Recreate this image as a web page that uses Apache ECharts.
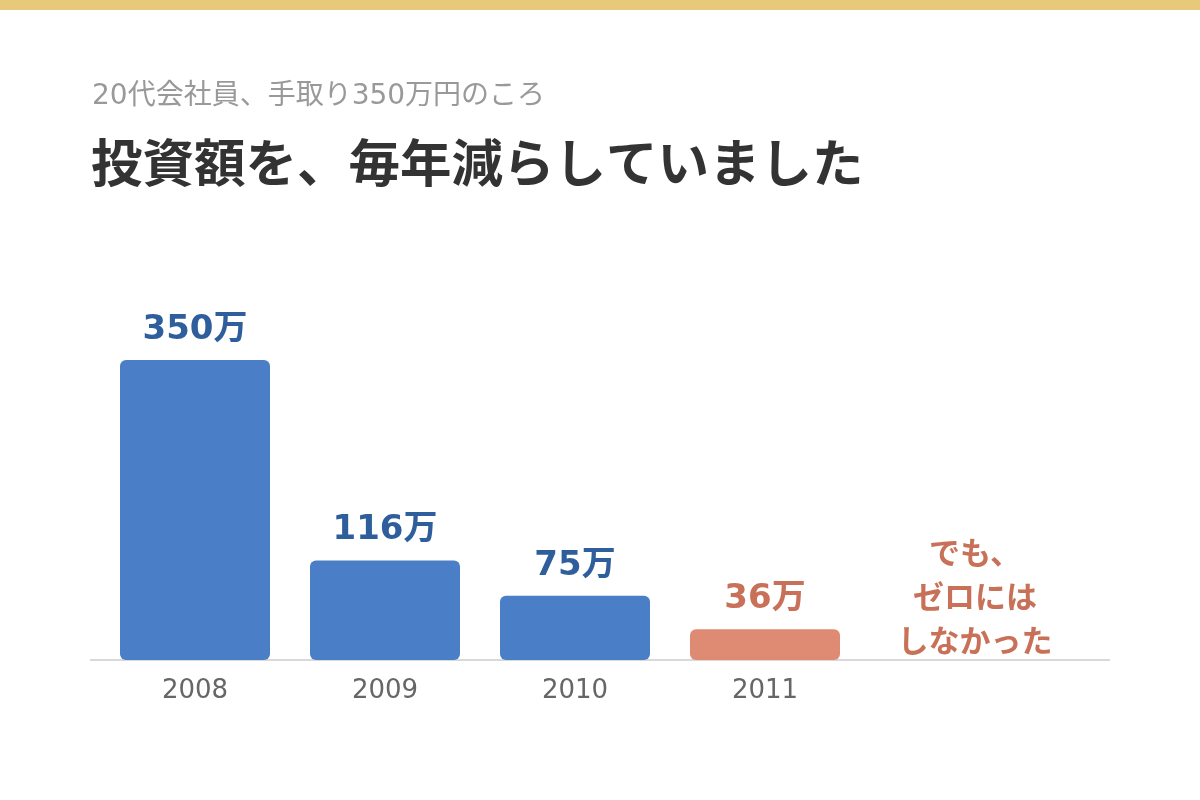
<!DOCTYPE html>
<html>
<head>
<meta charset="utf-8">
<script src="https://cdn.jsdelivr.net/npm/echarts@6/dist/echarts.min.js"></script>
<style>
html,body{margin:0;padding:0;background:#fff;}
#chart{width:1200px;height:800px;}
</style>
</head>
<body>
<div id="chart"></div>
<script>
const categories = ['2008', '2009', '2010', '2011', ''];
const values = [350, 116, 75, 36, 0];
const valueLabels = ['350万', '116万', '75万', '36万', 'でも、\nゼロには\nしなかった'];
const subtitleText = '20代会社員、手取り350万円のころ';
const titleText = '投資額を、毎年減らしていました';

const FONT = '"Noto Sans CJK JP", "Noto Sans", sans-serif';
const FONT_NUM = '"DejaVu Sans", "Noto Sans CJK JP", sans-serif';
const BLUE = '#4A7EC7', BLUE_TXT = '#2F5E9C';
const ORANGE = '#DF8B74', ORANGE_TXT = '#C87158';

const seriesData = values.map((v, i) => {
  const isLast = i === values.length - 1;
  const isOrange = i >= 3;
  const item = {
    value: v,
    itemStyle: { color: isOrange ? ORANGE : BLUE, borderRadius: 6 },
    label: {
      show: true,
      position: 'top',
      formatter: valueLabels[i],
      color: isOrange ? ORANGE_TXT : BLUE_TXT,
      fontSize: 34,
      fontWeight: 'bold',
      fontFamily: FONT_NUM,
      distance: 13
    }
  };
  if (isLast) {
    item.itemStyle = { color: 'rgba(0,0,0,0)' };
    item.label.fontSize = 31;
    item.label.fontFamily = FONT;
    item.label.lineHeight = 44;
    item.label.align = 'center';
    item.label.distance = 0;
    item.label.offset = [20, 2];
  }
  return item;
});

const chart = echarts.init(document.getElementById('chart'), null, { renderer: 'canvas' });
chart.setOption({
  backgroundColor: '#ffffff',
  animation: false,
  title: [
    { text: subtitleText, left: 87, top: 78,
      textStyle: { color: '#999999', fontSize: 28, fontWeight: 'normal', fontFamily: FONT_NUM } },
    { text: titleText, left: 86, top: 132,
      textStyle: { color: '#333333', fontSize: 51.5, fontWeight: 'bold', fontFamily: FONT } }
  ],
  graphic: [
    { type: 'rect', left: 0, top: 0, shape: { width: 1200, height: 10 }, style: { fill: '#E8C97C' } },
    { type: 'line', shape: { x1: 90, y1: 660, x2: 1110, y2: 660 }, style: { stroke: '#D9D9D9', lineWidth: 2 }, z: 0 }
  ],
  grid: { left: 100, right: 150, top: 360, bottom: 140 },
  xAxis: {
    type: 'category',
    data: categories,
    axisLine: { show: false },
    axisTick: { show: false },
    axisLabel: { color: '#666666', fontSize: 26, fontFamily: FONT_NUM, margin: 18 }
  },
  yAxis: {
    type: 'value', min: 0, max: 350,
    show: false,
    splitLine: { show: false }
  },
  series: [{
    type: 'bar',
    data: seriesData,
    barWidth: 150,
    z: 3
  }]
});
</script>
</body>
</html>
